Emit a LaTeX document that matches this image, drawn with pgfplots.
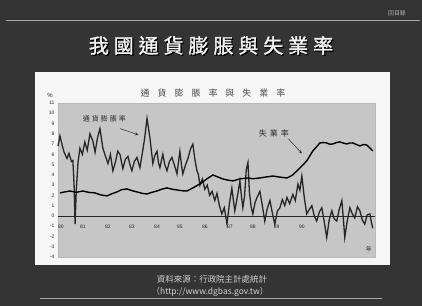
\documentclass[border=0pt]{standalone}
\usepackage{pgfplots}
\pgfplotsset{compat=1.18}
\usepackage{fontspec}
\setmainfont{Liberation Sans}
\newfontfamily\cjk{Noto Sans CJK TC}
\newfontfamily\cjkb[FakeBold=1.5]{Noto Sans CJK TC}
\definecolor{slidebg}{RGB}{52,52,52}
\definecolor{panel}{RGB}{246,246,246}
\definecolor{plotbg}{RGB}{198,198,198}
\definecolor{ink}{RGB}{40,40,40}
\newcommand{\gap}[1]{\hspace{#1}}
\begin{document}
\begin{tikzpicture}
\useasboundingbox (0bp,0bp) rectangle (422bp,306bp);
\fill[slidebg] (0bp,0bp) rectangle (422bp,306bp);
\fill[black!80] (0bp,286bp) rectangle (422bp,306bp);
\draw[gray!70, line width=0.8bp] (6bp,286bp) -- (420bp,286bp);
\node[text=gray!60, font=\cjk\fontsize{6}{7}\selectfont] at (397bp,293bp) {回目錄};
% title
\node[text=black, font=\cjkb\fontsize{20}{22}\selectfont] at (212.2bp,259.3bp)
 {我\gap{5bp}國\gap{5bp}通\gap{5bp}貨\gap{5bp}膨\gap{5bp}脹\gap{5bp}與\gap{5bp}失\gap{5bp}業\gap{5bp}率};
\node[text=gray!10, font=\cjkb\fontsize{20}{22}\selectfont] at (211bp,260.5bp)
 {我\gap{5bp}國\gap{5bp}通\gap{5bp}貨\gap{5bp}膨\gap{5bp}脹\gap{5bp}與\gap{5bp}失\gap{5bp}業\gap{5bp}率};
% panel
\fill[panel] (35bp,41bp) rectangle (390bp,234bp);
\node[text=gray!60!black, font=\cjk\fontsize{9}{10}\selectfont] at (213bp,213bp)
 {通\gap{8bp}貨\gap{8bp}膨\gap{8bp}脹\gap{8bp}率\gap{8bp}與\gap{8bp}失\gap{8bp}業\gap{8bp}率};
\node[text=ink, font=\fontsize{6}{7}\selectfont] at (50bp,211bp) {\%};
\begin{axis}[
  at={(58bp,49bp)}, anchor=south west,
  scale only axis, width=317bp, height=154bp,
  xmin=0, xmax=13, ymin=-4, ymax=11,
  axis background/.style={fill=plotbg},
  axis line style={draw=gray!55, line width=0.4bp},
  major tick length=0pt,
  ytick={-4,-3,...,11},
  xtick={0.12,1.02,2.05,3.03,4.06,5.0,6.02,7.05,7.99,8.97,10.0},
  xticklabels={80,81,82,83,84,85,86,87,88,89,90},
  xticklabel style={anchor=center, yshift=30bp},
  tick label style={font=\fontsize{5}{6}\selectfont, text=ink},
  /pgf/number format/assume math mode=true,
  clip=false,
]
\addplot[ink, line width=0.7bp] coordinates {(0,0)(13,0)};
% inflation
\addplot[black!85, line width=1.3bp] coordinates {
(0.00,6.8)(0.08,7.8)(0.17,6.9)(0.25,6.2)(0.37,5.6)(0.45,6.1)(0.55,5.3)(0.61,5.4)(0.66,3.0)(0.70,-0.8)(0.75,2.5)(0.82,5.2)(0.90,6.6)(1.00,6.0)(1.10,7.2)(1.20,6.4)(1.31,8.0)(1.43,7.3)(1.52,6.2)(1.62,7.6)(1.72,8.5)(1.84,6.6)(1.95,5.8)(2.05,5.1)(2.15,6.0)(2.25,4.4)(2.35,5.2)(2.45,6.3)(2.54,6.0)(2.66,4.6)(2.76,5.5)(2.87,5.8)(2.95,5.0)(3.03,4.4)(3.13,5.3)(3.24,5.7)(3.36,4.7)(3.45,6.0)(3.55,7.5)(3.65,9.5)(3.72,8.4)(3.77,7.6)(3.89,5.1)(3.97,5.9)(4.06,6.3)(4.12,5.2)(4.18,4.7)(4.25,5.5)(4.30,6.0)(4.38,5.0)(4.47,4.4)(4.57,5.3)(4.67,5.7)(4.78,4.9)(4.88,4.1)(4.95,5.4)(5.00,6.3)(5.06,5.0)(5.12,4.1)(5.22,4.9)(5.33,5.6)(5.43,6.5)(5.53,7.0)(5.62,5.4)(5.70,4.4)(5.76,4.0)(5.82,3.0)(5.92,3.6)(6.02,2.6)(6.12,3.0)(6.22,2.0)(6.32,2.4)(6.43,1.5)(6.52,2.2)(6.62,1.0)(6.72,0.2)(6.82,0.8)(6.93,-0.8)(7.03,1.2)(7.13,2.7)(7.20,1.4)(7.25,0.5)(7.35,1.8)(7.46,3.4)(7.52,2.0)(7.58,0.8)(7.65,1.9)(7.72,4.5)(7.79,5.2)(7.85,2.3)(7.92,0.9)(7.99,0.2)(8.08,1.3)(8.18,1.9)(8.28,2.4)(8.38,1.0)(8.48,-0.5)(8.58,0.7)(8.69,1.5)(8.79,0.3)(8.89,-0.8)(9.00,0.5)(9.10,0.8)(9.20,1.6)(9.30,1.0)(9.39,1.8)(9.50,1.2)(9.63,2.1)(9.73,1.5)(9.84,3.1)(9.92,2.5)(10.00,3.9)(10.10,1.8)(10.20,0.2)(10.30,0.6)(10.41,1.0)(10.51,0.0)(10.61,-0.5)(10.72,0.4)(10.82,0.8)(10.92,-0.6)(11.02,-2.1)(11.12,-0.4)(11.23,0.5)(11.33,-0.3)(11.43,-0.5)(11.53,0.6)(11.64,1.5)(11.70,-0.2)(11.76,-2.1)(11.86,-0.5)(11.97,0.8)(12.07,0.2)(12.17,-0.2)(12.28,0.9)(12.38,0.5)(12.48,-0.4)(12.58,-0.8)(12.68,0.1)(12.79,0.2)(12.85,-0.6)(12.91,-1.2)};
% unemployment
\addplot[black, line width=1.4bp] coordinates {
(0.08,2.24)(0.30,2.35)(0.49,2.43)(0.75,2.30)(1.02,2.43)(1.25,2.30)(1.52,2.24)(1.75,2.05)(2.01,1.95)(2.20,2.15)(2.42,2.34)(2.60,2.55)(2.83,2.63)(3.05,2.45)(3.24,2.34)(3.45,2.20)(3.65,2.14)(3.85,2.30)(4.06,2.43)(4.25,2.60)(4.47,2.73)(4.68,2.60)(4.88,2.53)(5.10,2.45)(5.29,2.43)(5.55,2.75)(5.82,3.12)(6.10,3.60)(6.35,3.99)(6.55,3.80)(6.76,3.60)(6.95,3.50)(7.17,3.41)(7.45,3.60)(7.75,3.70)(8.00,3.62)(8.28,3.70)(8.55,3.80)(8.81,3.89)(9.10,3.78)(9.39,3.70)(9.60,3.95)(9.80,4.38)(10.00,4.85)(10.20,5.36)(10.45,6.33)(10.74,7.11)(10.88,7.15)(11.02,7.11)(11.15,6.98)(11.27,7.01)(11.42,7.15)(11.56,7.21)(11.70,7.10)(11.84,7.01)(11.96,7.10)(12.09,7.11)(12.24,6.95)(12.38,6.82)(12.52,6.95)(12.66,6.91)(12.80,6.60)(12.91,6.33)};
\node[text=ink, font=\cjk\fontsize{7}{8}\selectfont] at (axis cs:1.9,9.5)
 {通\gap{2bp}貨\gap{2bp}膨\gap{2bp}脹\gap{2bp}率};
\draw[ink, line width=0.5bp, -stealth] (axis cs:2.55,8.5) -- (axis cs:3.3,7.9);
\node[text=ink, font=\cjk\fontsize{8}{9}\selectfont] at (axis cs:8.85,8.05)
 {失\gap{3bp}業\gap{3bp}率};
\draw[ink, line width=0.5bp, -stealth] (axis cs:9.45,7.5) -- (axis cs:10.0,6.1);
\node[text=ink, font=\cjk\fontsize{6}{7}\selectfont] at (axis cs:12.75,-3.2) {年};
\end{axis}
\draw[gray!70, line width=0.6bp] (40bp,8bp) -- (382bp,8bp);
\node[text=gray!35, font=\cjk\fontsize{8.5}{9}\selectfont] at (212bp,27bp) {資料來源：行政院主計處統計};
\node[text=gray!35, font=\cjk\fontsize{8.5}{9}\selectfont] at (210bp,14bp) {（http://www.dgbas.gov.tw）};
\end{tikzpicture}
\end{document}
